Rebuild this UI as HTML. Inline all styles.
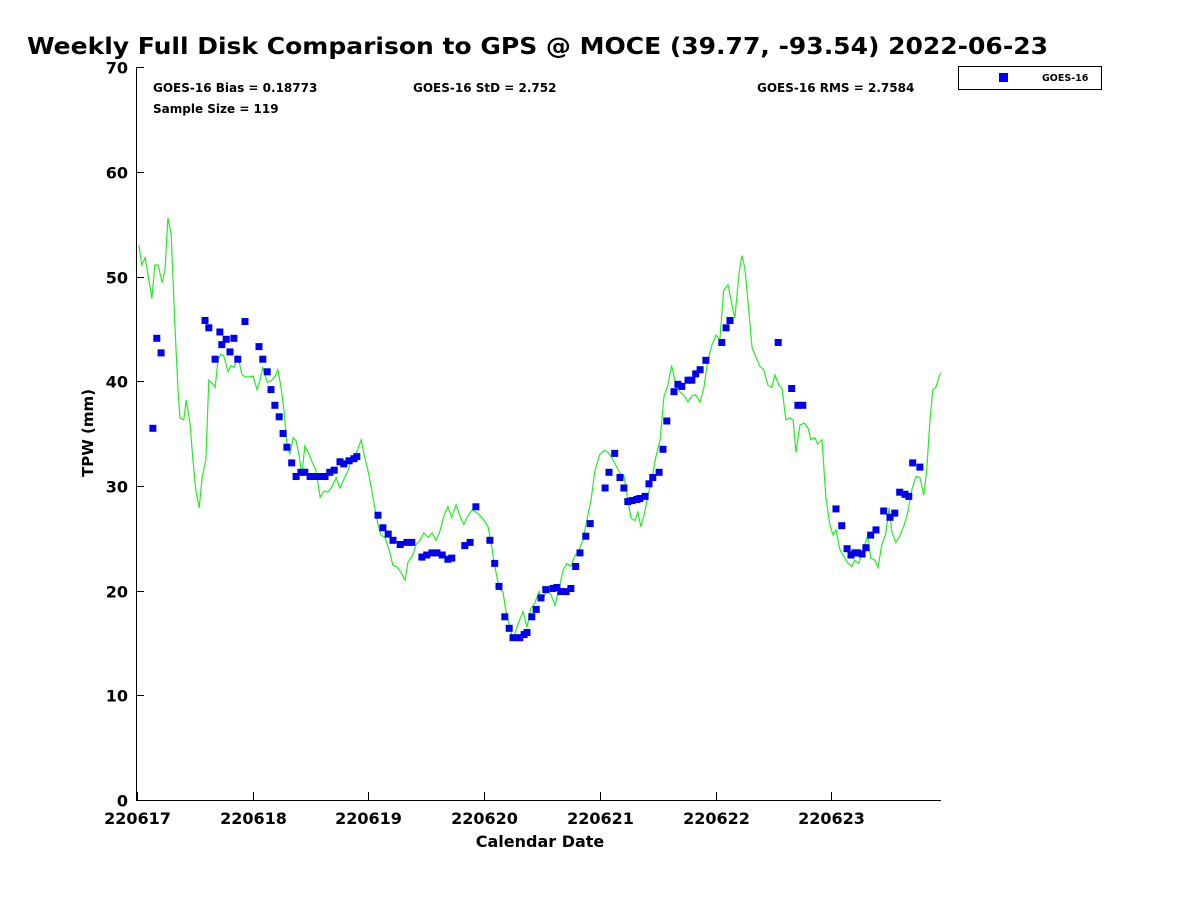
<!DOCTYPE html>
<html><head><meta charset="utf-8"><style>
body{margin:0;background:#fff;}
svg{display:block;font-family:"DejaVu Sans","Liberation Sans",sans-serif;font-weight:bold;}
</style></head><body>
<svg id="chart" width="1200" height="900" viewBox="0 0 1200 900">
<text x="27" y="54" font-size="23" textLength="1021" lengthAdjust="spacingAndGlyphs" fill="#000">Weekly Full Disk Comparison to GPS @ MOCE (39.77, -93.54) 2022-06-23</text>
<g id="axes"></g>
<g id="plot"></g>
<text x="153" y="92" font-size="12">GOES-16 Bias = 0.18773</text>
<text x="413" y="92" font-size="12">GOES-16 StD = 2.752</text>
<text x="757" y="92" font-size="12">GOES-16 RMS = 2.7584</text>
<text x="153" y="113" font-size="12">Sample Size = 119</text>
<g>
<rect x="958.5" y="66.5" width="143" height="23" fill="#fff" stroke="#000" stroke-width="1"/>
<rect x="999" y="73" width="9" height="9" fill="#0000ff"/>
<text x="1042" y="81" font-size="9.5">GOES-16</text>
</g>
<text x="540" y="847" font-size="16" text-anchor="middle">Calendar Date</text>
<text transform="translate(93,433) rotate(-90)" font-size="15" text-anchor="middle">TPW (mm)</text>
</svg>
<script>
const xTickLabels=["220617","220618","220619","220620","220621","220622","220623"];
const yTickValues=[0,10,20,30,40,50,60,70];
const gpsHours=[0.4,1.0,1.7,2.3,3.1,3.7,4.4,5.2,5.8,6.4,7.1,7.9,8.5,8.9,9.7,10.2,11.0,11.6,12.2,12.9,13.5,14.3,14.9,15.6,16.2,16.8,17.4,18.0,18.9,19.5,20.1,20.9,21.8,22.6,23.4,24.1,24.9,25.5,26.1,27.0,27.8,28.6,29.2,29.9,30.5,31.1,31.7,32.4,33.0,33.6,34.2,34.8,35.7,36.3,37.1,38.0,38.8,39.6,40.4,41.3,42.1,42.9,43.8,44.6,45.4,46.5,47.1,47.9,48.7,49.4,50.0,50.6,51.4,52.3,53.1,53.9,54.8,55.6,56.2,57.2,57.9,58.7,59.5,60.4,61.2,62.0,62.8,63.7,64.5,65.3,66.2,67.0,67.8,68.6,69.5,70.3,71.1,72.0,72.8,73.4,74.0,74.7,75.3,75.9,76.5,77.4,78.0,78.6,79.2,80.1,80.9,81.7,82.5,83.4,84.2,85.0,85.9,86.7,87.5,88.4,89.2,90.0,90.8,91.7,92.5,93.3,94.2,95.0,96.0,96.9,97.7,98.5,99.3,100.2,101.0,101.8,102.5,103.3,103.9,104.5,105.2,106.0,106.8,107.6,108.5,109.3,110.1,110.9,111.8,112.6,113.4,114.3,115.1,115.9,116.8,117.6,118.4,119.3,120.1,120.9,121.7,122.6,123.2,124.0,124.9,125.5,126.1,126.7,127.6,128.4,129.2,130.0,130.9,131.7,132.3,133.2,133.8,134.6,135.4,136.1,136.7,137.5,138.4,139.2,139.8,140.6,141.2,142.1,142.9,143.7,144.4,145.0,145.8,146.7,147.5,148.3,148.9,149.7,150.8,151.6,152.2,153.1,153.7,154.5,155.3,156.0,156.6,157.4,158.2,159.1,159.9,160.7,161.6,162.4,163.2,163.8,164.5,165.1,165.7,166.3,166.7];
const gpsTpw=[53.0,51.1,51.8,50.1,47.9,51.1,51.1,49.4,50.6,55.6,54.0,44.9,39.2,36.5,36.3,38.2,36.0,32.5,29.6,27.9,30.8,32.5,40.1,39.8,39.4,42.0,42.6,42.4,40.9,41.5,41.3,42.4,40.6,40.4,40.4,40.5,39.2,40.1,41.3,39.9,40.0,40.4,41.1,39.4,37.2,34.0,33.0,34.6,34.3,33.0,31.0,33.8,33.0,32.3,31.5,28.9,29.5,29.4,29.9,30.8,29.8,30.6,31.5,32.7,33.0,34.4,33.0,31.5,29.6,27.7,26.3,25.3,25.1,23.9,22.4,22.3,21.7,21.0,22.7,23.4,24.4,24.8,25.5,25.1,25.5,24.8,25.6,27.2,28.0,27.0,28.2,27.1,26.3,27.1,27.7,27.5,27.2,26.7,26.1,24.8,22.9,21.2,20.1,19.9,18.1,16.4,15.3,16.2,17.0,18.0,16.5,18.3,18.8,19.9,19.1,20.1,19.6,18.6,20.1,22.0,22.6,22.3,23.3,23.9,24.8,26.7,28.7,31.5,33.0,33.4,33.2,32.7,32.0,31.2,31.0,28.7,26.9,26.7,27.5,26.1,27.3,29.1,30.6,32.7,34.4,38.5,39.6,41.5,39.6,39.0,38.7,38.0,38.6,38.7,38.0,39.4,42.0,43.5,44.4,43.9,48.7,49.2,47.8,46.0,50.4,52.0,50.8,47.8,43.2,42.3,41.4,41.1,39.6,39.4,40.6,39.6,39.3,36.3,36.5,36.3,33.2,35.8,36.0,35.5,34.4,34.6,34.0,34.4,28.9,26.3,25.3,25.8,23.9,23.2,22.6,22.3,22.9,22.6,24.1,25.3,23.1,22.9,22.2,24.4,25.4,27.9,25.6,24.6,25.2,26.2,27.5,29.6,30.9,30.8,29.1,31.5,36.3,39.2,39.4,40.3,40.8];
const goesHours=[3.3,4.1,5.0,14.1,14.9,16.2,17.2,17.6,18.5,19.3,20.1,20.9,22.4,25.3,26.1,27.0,27.8,28.6,29.5,30.3,31.1,32.1,33.0,34.0,34.8,35.9,36.9,38.0,39.0,40.0,40.9,42.1,42.9,44.0,45.0,45.6,50.0,51.0,52.1,53.1,54.6,56.0,57.0,59.1,60.1,61.2,62.2,63.3,64.5,65.3,68.0,69.1,70.3,73.2,74.2,75.1,76.3,77.2,78.0,79.4,80.3,80.9,81.9,82.8,83.8,84.8,86.3,87.1,87.9,89.0,90.0,91.0,91.9,93.1,94.0,97.1,97.9,99.1,100.2,101.0,101.8,102.7,103.7,104.3,105.4,106.2,107.0,108.3,109.1,109.9,111.4,112.2,113.0,114.3,115.1,115.9,116.8,118.0,121.3,122.2,123.0,133.0,135.8,137.1,138.1,145.0,146.2,147.3,148.1,148.9,149.5,150.4,151.2,152.2,153.3,154.9,156.2,157.2,158.2,159.3,160.1,160.9,162.4];
const goesTpw=[35.5,44.1,42.7,45.8,45.1,42.1,44.7,43.5,44.0,42.8,44.1,42.1,45.7,43.3,42.1,40.9,39.2,37.7,36.6,35.0,33.7,32.2,30.9,31.3,31.3,30.9,30.9,30.9,30.9,31.3,31.5,32.3,32.1,32.4,32.6,32.8,27.2,26.0,25.4,24.8,24.4,24.6,24.6,23.2,23.4,23.6,23.6,23.4,23.0,23.1,24.3,24.6,28.0,24.8,22.6,20.4,17.5,16.4,15.5,15.5,15.8,16.0,17.5,18.2,19.3,20.1,20.2,20.3,19.9,19.9,20.2,22.3,23.6,25.2,26.4,29.8,31.3,33.1,30.8,29.8,28.5,28.6,28.7,28.8,29.0,30.2,30.8,31.3,33.5,36.2,39.0,39.7,39.5,40.1,40.1,40.7,41.1,42.0,43.7,45.1,45.8,43.7,39.3,37.7,37.7,27.8,26.2,24.0,23.4,23.6,23.6,23.5,24.1,25.3,25.8,27.6,27.0,27.4,29.4,29.2,29.0,32.2,31.8];

const NS="http://www.w3.org/2000/svg";
const X0=137, PXH=115.7/24, Y0=800, PXV=10.47;
function xs(h){return X0+h*PXH;}
function ys(v){return Y0-v*PXV;}
function mk(tag,attrs,parent){const e=document.createElementNS(NS,tag);for(const k in attrs)e.setAttribute(k,attrs[k]);parent.appendChild(e);return e;}
const axes=document.getElementById('axes'), plot=document.getElementById('plot');
let e=mk('line',{x1:136.5,y1:67,x2:136.5,y2:800.5,stroke:'#000','stroke-width':1},axes);


e=mk('line',{x1:136,y1:800.5,x2:941,y2:800.5,stroke:'#000','stroke-width':1},axes);


yTickValues.forEach(v=>{
  const y=Math.round(ys(v))+0.5;
  let t=mk('line',{x1:136,y1:y,x2:144,y2:y,stroke:'#000'},axes);
  
  
  let l=mk('text',{x:128,y:y+6,'font-size':16,'text-anchor':'end'},axes);
  l.textContent=v;
  
  
});
xTickLabels.forEach((s,i)=>{
  const x=Math.round(xs(i*24))+0.5;
  let t=mk('line',{x1:x,y1:800,x2:x,y2:792,stroke:'#000'},axes);
  
  
  let l=mk('text',{x:x,y:824,'font-size':16,'text-anchor':'middle'},axes);
  l.textContent=s;
  
  
});
const pts=gpsHours.map((h,i)=>xs(h).toFixed(1)+','+ys(gpsTpw[i]).toFixed(1)).join(' ');
const line=mk('polyline',{points:pts,fill:'none',stroke:'#22ee22','stroke-width':1.2},plot);


goesHours.forEach((h,i)=>{
  const r=mk('rect',{x:(xs(h)-3.5).toFixed(1),y:(ys(goesTpw[i])-3.5).toFixed(1),width:7,height:7,fill:'#0000ee'},plot);
  
  
});
</script>
</body></html>
